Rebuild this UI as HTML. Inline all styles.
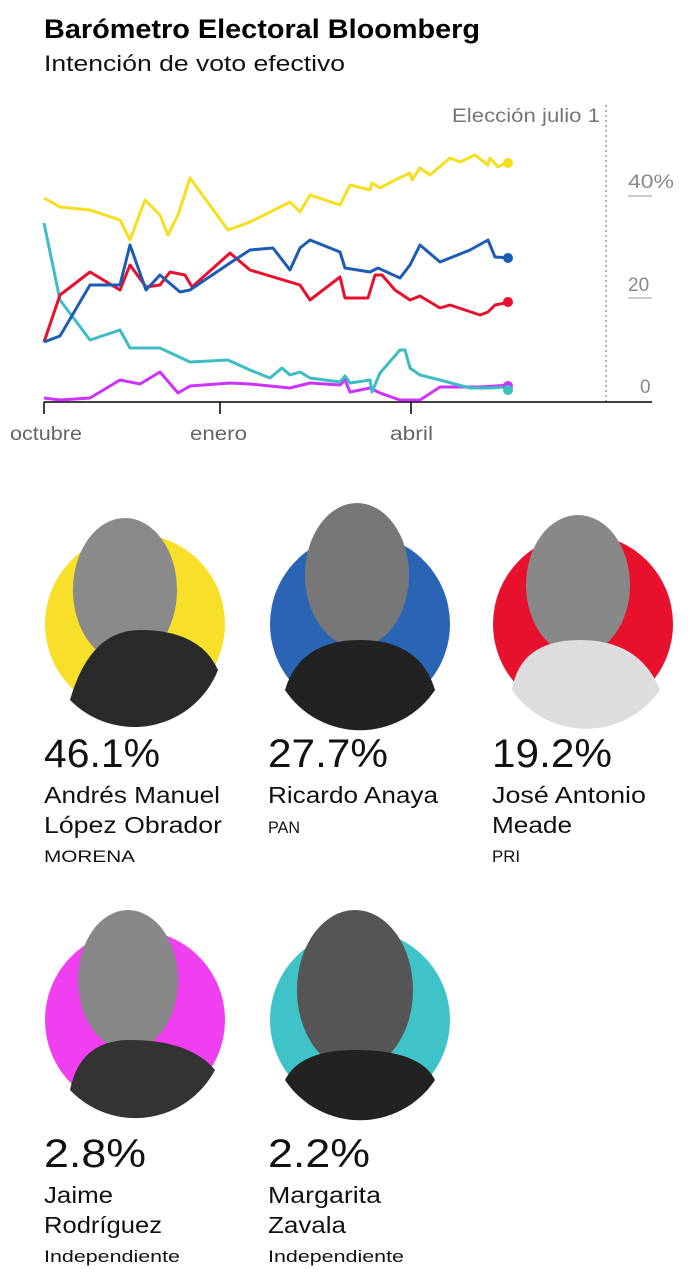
<!DOCTYPE html>
<html><head><meta charset="utf-8"><style>
body{margin:0;background:#fff;width:700px;height:1270px;overflow:hidden;font-family:"Liberation Sans",sans-serif}
</style></head><body>
<svg width="700" height="1270" xmlns="http://www.w3.org/2000/svg" font-family="Liberation Sans, sans-serif">
<text x="44" y="38" font-size="27" font-weight="bold" fill="#000" textLength="436" lengthAdjust="spacingAndGlyphs">Barómetro Electoral Bloomberg</text>
<text x="44" y="71" font-size="22" fill="#111" textLength="301" lengthAdjust="spacingAndGlyphs">Intención de voto efectivo</text>
<!-- chart -->
<line x1="606" y1="105" x2="606" y2="402" stroke="#999" stroke-width="1.5" stroke-dasharray="2,3"/>
<text x="600" y="122" font-size="19" fill="#777" text-anchor="end" textLength="148" lengthAdjust="spacingAndGlyphs">Elección julio 1</text>
<text x="628" y="188" font-size="19" fill="#888" textLength="46" lengthAdjust="spacingAndGlyphs">40%</text>
<line x1="628" y1="196" x2="652" y2="196" stroke="#ccc" stroke-width="2"/>
<text x="628" y="291" font-size="19" fill="#888">20</text>
<line x1="628" y1="298" x2="652" y2="298" stroke="#ccc" stroke-width="2"/>
<text x="640" y="393" font-size="19" fill="#888">0</text>
<line x1="44" y1="402" x2="652" y2="402" stroke="#000" stroke-width="1.5"/>
<line x1="44" y1="402" x2="44" y2="414" stroke="#000" stroke-width="1.5"/>
<line x1="220" y1="402" x2="220" y2="414" stroke="#000" stroke-width="1.5"/>
<line x1="411" y1="402" x2="411" y2="414" stroke="#000" stroke-width="1.5"/>
<text x="10" y="440" font-size="19" fill="#666" textLength="72" lengthAdjust="spacingAndGlyphs">octubre</text>
<text x="190" y="440" font-size="19" fill="#666" textLength="57" lengthAdjust="spacingAndGlyphs">enero</text>
<text x="390" y="440" font-size="19" fill="#666" textLength="43" lengthAdjust="spacingAndGlyphs">abril</text>
<g fill="none" stroke-width="3" stroke-linejoin="round">
<polyline stroke="#cc33ff" points="44,398 60,400 90,398 120,380 140,384 160,372 178,393 190,386 230,383 250,384 290,388 310,383 340,385 345,380 350,392 370,388 380,393 400,400 420,400 440,387 480,387 510,385"/>
<polyline stroke="#3dbcc4" points="44,223 60,300 90,340 120,330 130,348 160,348 175,355 190,362 228,360 250,370 270,378 282,368 290,375 300,372 310,378 340,382 345,376 350,383 370,380 372,392 380,373 400,350 405,350 410,368 420,375 440,380 470,388 490,388 505,387 510,390"/>
<polyline stroke="#e8112d" points="44,342 60,295 90,272 120,290 130,265 146,287 160,285 170,272 185,275 192,287 230,253 250,270 290,282 300,285 310,300 340,277 345,298 368,298 375,275 382,275 395,290 410,300 420,296 440,308 450,305 480,315 488,312 495,305 510,302"/>
<polyline stroke="#1d5cb4" points="44,342 60,336 90,285 120,285 130,245 146,290 160,275 180,292 190,290 230,263 250,250 273,248 290,270 300,248 310,240 340,252 345,268 370,272 378,268 400,278 410,265 420,245 440,262 470,250 488,240 495,257 510,258"/>
<polyline stroke="#f5df1e" points="44,198 60,207 90,210 120,220 130,240 145,200 160,215 168,235 178,215 190,178 228,230 250,222 290,202 300,212 310,195 340,205 350,185 370,190 372,183 380,188 395,180 410,173 412,180 420,168 430,175 450,158 460,162 475,155 488,165 490,158 498,167 505,163 510,163"/>
</g>
<circle cx="508" cy="163" r="5" fill="#f5df1e"/>
<circle cx="508" cy="258" r="5" fill="#1d5cb4"/>
<circle cx="508" cy="302" r="5" fill="#e8112d"/>
<circle cx="508" cy="386" r="5" fill="#cc33ff"/>
<circle cx="508" cy="390" r="5" fill="#3dbcc4"/>
<!-- portraits -->
<g>
<circle cx="135" cy="624" r="90" fill="#f7df2a"/>
<ellipse cx="125" cy="590" rx="52" ry="72" fill="#8a8a8a"/>
<path d="M70,700 Q90,630 140,630 Q200,630 218,670 A90,90 0 0 1 70,700Z" fill="#2a2a2a"/>
<circle cx="360" cy="624" r="90" fill="#2a65b5"/>
<ellipse cx="357" cy="575" rx="52" ry="72" fill="#777"/>
<path d="M285,690 Q300,640 360,640 Q420,640 435,690 A90,90 0 0 1 285,690Z" fill="#222"/>
<circle cx="583" cy="624" r="90" fill="#e8112d"/>
<ellipse cx="578" cy="585" rx="52" ry="70" fill="#888"/>
<path d="M512,690 Q520,640 580,640 Q640,640 660,690 A90,90 0 0 1 512,690Z" fill="#ddd"/>
<circle cx="135" cy="1020" r="90" fill="#f03ff0"/>
<ellipse cx="128" cy="980" rx="50" ry="70" fill="#888"/>
<path d="M70,1090 Q80,1040 130,1040 Q190,1040 215,1070 A90,90 0 0 1 70,1090Z" fill="#333"/>
<circle cx="360" cy="1020" r="90" fill="#3fc3c9"/>
<ellipse cx="355" cy="990" rx="58" ry="80" fill="#555"/>
<path d="M285,1080 Q300,1050 355,1050 Q420,1050 435,1080 A90,90 0 0 1 285,1080Z" fill="#222"/>
</g>
<g fill="#111" lengthAdjust="spacingAndGlyphs">
<text x="44" y="767" font-size="40" textLength="116" lengthAdjust="spacingAndGlyphs">46.1%</text>
<text x="44" y="803" font-size="23" textLength="176" lengthAdjust="spacingAndGlyphs">Andrés Manuel</text>
<text x="44" y="833" font-size="23" textLength="178" lengthAdjust="spacingAndGlyphs">López Obrador</text>
<text x="44" y="862" font-size="17" textLength="91" lengthAdjust="spacingAndGlyphs">MORENA</text>
<text x="268" y="767" font-size="40" textLength="120" lengthAdjust="spacingAndGlyphs">27.7%</text>
<text x="268" y="803" font-size="23" textLength="170" lengthAdjust="spacingAndGlyphs">Ricardo Anaya</text>
<text x="268" y="833" font-size="17" textLength="32" lengthAdjust="spacingAndGlyphs">PAN</text>
<text x="492" y="767" font-size="40" textLength="120" lengthAdjust="spacingAndGlyphs">19.2%</text>
<text x="492" y="803" font-size="23" textLength="154" lengthAdjust="spacingAndGlyphs">José Antonio</text>
<text x="492" y="833" font-size="23" textLength="80" lengthAdjust="spacingAndGlyphs">Meade</text>
<text x="492" y="862" font-size="17" textLength="28" lengthAdjust="spacingAndGlyphs">PRI</text>
<text x="44" y="1167" font-size="40" textLength="102" lengthAdjust="spacingAndGlyphs">2.8%</text>
<text x="44" y="1203" font-size="23" textLength="69" lengthAdjust="spacingAndGlyphs">Jaime</text>
<text x="44" y="1233" font-size="23" textLength="118" lengthAdjust="spacingAndGlyphs">Rodríguez</text>
<text x="44" y="1262" font-size="17" textLength="136" lengthAdjust="spacingAndGlyphs">Independiente</text>
<text x="268" y="1167" font-size="40" textLength="102" lengthAdjust="spacingAndGlyphs">2.2%</text>
<text x="268" y="1203" font-size="23" textLength="113" lengthAdjust="spacingAndGlyphs">Margarita</text>
<text x="268" y="1233" font-size="23" textLength="78" lengthAdjust="spacingAndGlyphs">Zavala</text>
<text x="268" y="1262" font-size="17" textLength="136" lengthAdjust="spacingAndGlyphs">Independiente</text>
</g>
</svg>
</body></html>
